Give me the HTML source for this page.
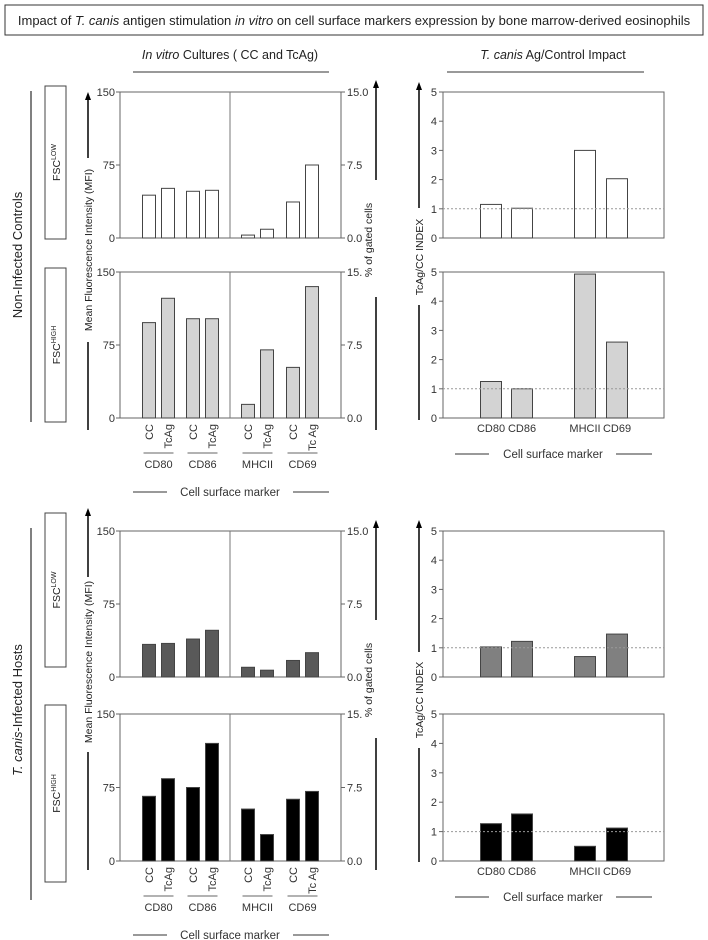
<!DOCTYPE html>
<html><head><meta charset="utf-8"><style>
body{margin:0;background:#fff;}
svg{display:block;font-family:"Liberation Sans",sans-serif;}
</style></head><body>
<svg id="fig" width="708" height="940" viewBox="0 0 708 940">
<rect x="5" y="5" width="698" height="30" fill="#fff" stroke="#333" stroke-width="1"/>
<text x="354" y="25" text-anchor="middle" font-size="13" fill="#222">Impact of <tspan font-style="italic">T. canis</tspan> antigen stimulation <tspan font-style="italic">in vitro</tspan> on cell surface markers expression by bone marrow-derived eosinophils</text>
<text x="230" y="59" text-anchor="middle" font-size="12.5" fill="#222"><tspan font-style="italic">In vitro</tspan> Cultures ( CC and TcAg)</text>
<line x1="133" y1="72" x2="329" y2="72" stroke="#333"/>
<text x="553" y="59" text-anchor="middle" font-size="12.5" fill="#222"><tspan font-style="italic">T. canis</tspan> Ag/Control Impact</text>
<line x1="447" y1="72" x2="644" y2="72" stroke="#333"/>
<g id="g"></g>
</svg>
<script>
const groups=["CD80","CD86","MHCII","CD69"];
const conds=["CC","TcAg","CC","TcAg","CC","TcAg","CC","Tc Ag"];
const leftTicks=["0","75","150"];
const rightTicksA=["0.0","7.5","15.0"];
const rightTicksB=["0.0","7.5","15."];
const idxTicks=["0","1","2","3","4","5"];
const niLow=[44,51,48,49,3,9,37,75];
const niHigh=[98,123,102,102,14,70,52,135];
const infLow=[33.5,34.5,39,48,10,7,17,25];
const infHigh=[66,84,75,120,53,27,63,71];
const niLowIdx=[1.15,1.02,3.0,2.03];
const niHighIdx=[1.25,1.0,4.93,2.6];
const infLowIdx=[1.03,1.22,0.7,1.47];
const infHighIdx=[1.27,1.6,0.5,1.12];

const NS="http://www.w3.org/2000/svg";
const G=document.getElementById('g');
function mk(tag,at,parent,txt){const e=document.createElementNS(NS,tag);for(const k in at)e.setAttribute(k,at[k]);if(txt!==undefined)e.textContent=txt;(parent||G).appendChild(e);return e;}

function mfiPanel(name,top,bot,vals,fill,rt){
  const x0=120,x1=341;
  const y=v=>bot-(v/150)*(bot-top);
  const g=mk('g',{});
  
  
  let e=mk('rect',{x:x0,y:top,width:x1-x0,height:bot-top,fill:'none',stroke:'#666'},g);
  
  
  mk('line',{x1:230,y1:top,x2:230,y2:bot,stroke:'#777'},g);
  leftTicks.forEach((t,i)=>{const yy=y(Number(t));
    mk('line',{x1:x0-4,y1:yy,x2:x0,y2:yy,stroke:'#666'},g);
    const l=mk('text',{x:x0-5,y:yy+4,'text-anchor':'end','font-size':11,fill:'#333'},g,t);
    
    
    mk('line',{x1:x1,y1:yy,x2:x1+4,y2:yy,stroke:'#666'},g);
    const r=mk('text',{x:x1+6,y:yy+4,'font-size':11,fill:'#333'},g,rt[i]);
    
    
  });
  const centers=[149,168,193,212,248,267,293,312];
  vals.forEach((v,i)=>{
    const b=mk('rect',{x:centers[i]-6.5,y:y(v),width:13,height:bot-y(v),fill:fill,stroke:'#444','stroke-width':1},g);
    
    
  });
  return centers;
}
function idxPanel(name,top,bot,vals,fill){
  const x0=443,x1=664;
  const y=v=>bot-(v/5)*(bot-top);
  const g=mk('g',{});
  
  
  mk('rect',{x:x0,y:top,width:x1-x0,height:bot-top,fill:'none',stroke:'#666'},g);
  idxTicks.forEach(t=>{const yy=y(Number(t));
    mk('line',{x1:x0-4,y1:yy,x2:x0,y2:yy,stroke:'#666'},g);
    const l=mk('text',{x:x0-6,y:yy+4,'text-anchor':'end','font-size':11,fill:'#333'},g,t);
    
    
  });
  const centers=[491,522,585,617];
  vals.forEach((v,i)=>{
    const b=mk('rect',{x:centers[i]-10.5,y:y(v),width:21,height:bot-y(v),fill:fill,stroke:'#444'},g);
    
    
  });
  const d=mk('line',{x1:x0,y1:y(1),x2:x1,y2:y(1),stroke:'#999','stroke-dasharray':'2,2'},g);
  
  
  return centers;
}
function mfiXLabels(bot,centers){
  conds.forEach((c,i)=>{
    const t=mk('text',{x:0,y:0,'text-anchor':'end','font-size':11,fill:'#333',transform:`translate(${centers[i]+4},${bot+6}) rotate(-90)`},G,c);
    
    
  });
  groups.forEach((gname,k)=>{
    const cx=(centers[2*k]+centers[2*k+1])/2;
    mk('line',{x1:cx-15,y1:bot+35,x2:cx+15,y2:bot+35,stroke:'#666'});
    const t=mk('text',{x:cx,y:bot+50,'text-anchor':'middle','font-size':11,fill:'#333'},G,gname);
    
    
  });
  mk('line',{x1:133,y1:bot+74,x2:167,y2:bot+74,stroke:'#333'});
  mk('line',{x1:293,y1:bot+74,x2:329,y2:bot+74,stroke:'#333'});
  const t=mk('text',{x:230,y:bot+78,'text-anchor':'middle','font-size':11.5,fill:'#333'},G,'Cell surface marker');
  
  
}
function idxXLabels(bot,centers){
  groups.forEach((gname,k)=>{
    const t=mk('text',{x:centers[k],y:bot+14,'text-anchor':'middle','font-size':11,fill:'#333'},G,gname);
    
    
  });
  mk('line',{x1:455,y1:bot+36,x2:489,y2:bot+36,stroke:'#333'});
  mk('line',{x1:616,y1:bot+36,x2:652,y2:bot+36,stroke:'#333'});
  const t=mk('text',{x:553,y:bot+40,'text-anchor':'middle','font-size':11.5,fill:'#333'},G,'Cell surface marker');
  
  
}
function vlabel(x,yc,txt,size,name,italicPart){
  const t=mk('text',{x:0,y:0,'text-anchor':'middle','font-size':size,fill:'#222',transform:`translate(${x},${yc}) rotate(-90)`});
  if(italicPart){mk('tspan',{'font-style':'italic'},t,italicPart);mk('tspan',{},t,txt);}else t.textContent=txt;
  
  
}
function arrow(x,y1,y2){
  mk('line',{x1:x,y1:y2,x2:x,y2:y1+6,stroke:'#000','stroke-width':1.5});
  mk('polygon',{points:`${x-3},${y1+8} ${x+3},${y1+8} ${x},${y1}`,fill:'#000'});
}
function vline(x,y1,y2,w){mk('line',{x1:x,y1:y1,x2:x,y2:y2,stroke:'#000','stroke-width':w||1.5});}
function fscBox(y1,y2,sup,name){
  const r=mk('rect',{x:45,y:y1,width:21,height:y2-y1,fill:'#fff',stroke:'#444'});
  
  
  const t=mk('text',{x:0,y:0,'text-anchor':'middle','font-size':10.5,fill:'#222',transform:`translate(60,${(y1+y2)/2}) rotate(-90)`});
  mk('tspan',{},t,'FSC');mk('tspan',{'font-size':7,dy:-4},t,sup);
}

// Non-infected
let c=mfiPanel('ni-fsc-low-mfi',92,238,niLow,'#fff',rightTicksA);
mfiPanel('ni-fsc-high-mfi',272,418,niHigh,'#d3d3d3',rightTicksB);
mfiXLabels(418,c);
let ci=idxPanel('ni-fsc-low-index',92,238,niLowIdx,'#fff');
idxPanel('ni-fsc-high-index',272,418,niHighIdx,'#d3d3d3');
idxXLabels(418,ci);
// Infected
mfiPanel('inf-fsc-low-mfi',531,677,infLow,'#595959',rightTicksA);
mfiPanel('inf-fsc-high-mfi',714,861,infHigh,'#000',rightTicksB);
mfiXLabels(861,c);
idxPanel('inf-fsc-low-index',531,677,infLowIdx,'#808080');
idxPanel('inf-fsc-high-index',714,861,infHighIdx,'#000');
idxXLabels(861,ci);

// side annotations NI
vline(31,91,422,1);
vlabel(22,255,'Non-Infected Controls',13,'group-label-non-infected');
fscBox(86,239,'LOW','fsc-low-box');
fscBox(268,422,'HIGH','fsc-high-box');
arrow(88,92,158);
vlabel(92,250,'Mean Fluorescence Intensity (MFI)',10.5,'mfi-axis-title');
vline(88,342,430);
arrow(376,80,180);
vlabel(372,240,'% of gated cells',10.5,'percent-axis-title');
vline(376,297,430);
arrow(419,82,208);
vlabel(423,257,'TcAg/CC INDEX',10.5,'index-axis-title');
vline(419,305,420);
// side annotations infected
vline(31,528,900,1);
vlabel(22,710,'-Infected Hosts',13,'group-label-infected','T. canis');
fscBox(513,667,'LOW','fsc-low-box-infected');
fscBox(705,882,'HIGH','fsc-high-box-infected');
arrow(88,508,577);
vlabel(92,662,'Mean Fluorescence Intensity (MFI)',10.5,'mfi-axis-title-infected');
vline(88,752,870);
arrow(376,520,620);
vlabel(372,680,'% of gated cells',10.5,'percent-axis-title-infected');
vline(376,738,870);
arrow(419,520,652);
vlabel(423,700,'TcAg/CC INDEX',10.5,'index-axis-title-infected');
vline(419,748,862);
</script>
</body></html>
